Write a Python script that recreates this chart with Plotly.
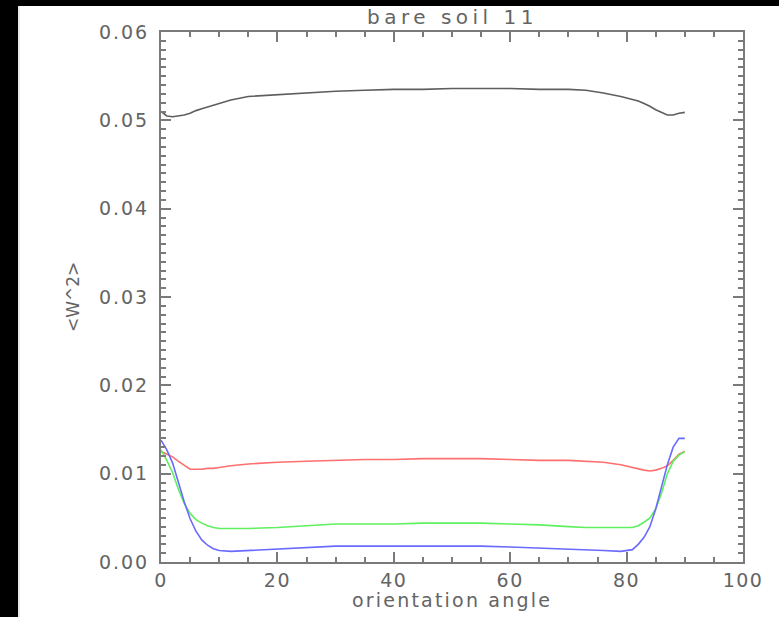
import plotly.graph_objects as go

angles = [0, 1, 2, 3, 4, 5, 6, 7, 8, 9, 10, 12, 15, 20, 25, 30, 35, 40, 45, 50,
          55, 60, 65, 70, 73, 76, 79, 81, 82, 83, 84, 85, 86, 87, 88, 89, 90]

gray_vals = [0.0510, 0.0505, 0.0504, 0.0505, 0.0506, 0.0508, 0.0511, 0.0513, 0.0515, 0.0517,
             0.0519, 0.0523, 0.0527, 0.0529, 0.0531, 0.0533, 0.0534, 0.0535, 0.0535, 0.0536,
             0.0536, 0.0536, 0.0535, 0.0535, 0.0534, 0.0531, 0.0527, 0.0524, 0.0522, 0.0519,
             0.0516, 0.0512, 0.0509, 0.0506, 0.0506, 0.0508, 0.0509]

red_vals = [0.0125, 0.0122, 0.0119, 0.0114, 0.0109, 0.0105, 0.0105, 0.0105, 0.0106, 0.0106,
            0.0107, 0.0109, 0.0111, 0.0113, 0.0114, 0.0115, 0.0116, 0.0116, 0.0117, 0.0117,
            0.0117, 0.0116, 0.0115, 0.0115, 0.0114, 0.0113, 0.0110, 0.0107, 0.0105, 0.0104,
            0.0103, 0.0104, 0.0106, 0.0109, 0.0115, 0.0122, 0.0125]

green_vals = [0.0127, 0.0115, 0.0101, 0.0082, 0.0066, 0.0055, 0.0048, 0.0044, 0.0041, 0.0039,
              0.0038, 0.0038, 0.0038, 0.0039, 0.0041, 0.0043, 0.0043, 0.0043, 0.0044, 0.0044,
              0.0044, 0.0043, 0.0042, 0.0040, 0.0039, 0.0039, 0.0039, 0.0039, 0.0041, 0.0045,
              0.0050, 0.0060, 0.0078, 0.0100, 0.0114, 0.0121, 0.0125]

blue_vals = [0.0138, 0.0127, 0.0112, 0.0090, 0.0068, 0.0049, 0.0035, 0.0025, 0.0019, 0.0015,
             0.0013, 0.0012, 0.0013, 0.0014, 0.0016, 0.0018, 0.0018, 0.0018, 0.0018, 0.0018,
             0.0018, 0.0017, 0.0016, 0.0015, 0.0014, 0.0013, 0.0012, 0.0014, 0.0020, 0.0028,
             0.0040, 0.0060, 0.0085, 0.0110, 0.0130, 0.0140, 0.0140]

x_ticks = [0, 20, 40, 60, 80, 100]
y_ticks = [0.00, 0.01, 0.02, 0.03, 0.04, 0.05, 0.06]

title_text = "bare soil 11"
x_title = "orientation angle"
y_title = "&lt;W^2&gt;"

axis_col = "#7a7a7a"
text_col = "#646464"
font_fam = "DejaVu Sans, sans-serif"


def spaced(t, sp):
    return '<span style="letter-spacing:%.1fpx">%s</span>' % (sp, t)


fig = go.Figure()
for vals, col in [(gray_vals, "#5e5e5e"), (red_vals, "#ff6f6f"),
                  (green_vals, "#5ef05e"), (blue_vals, "#6a6aff")]:
    fig.add_trace(go.Scatter(x=angles, y=vals, mode="lines",
                             line=dict(color=col, width=1.6), showlegend=False,
                             hoverinfo="skip"))

common = dict(showline=True, linecolor=axis_col, linewidth=2, mirror="allticks",
              ticks="inside", tickcolor=axis_col, tickwidth=1.5, ticklen=10,
              showgrid=False, zeroline=False,
              tickfont=dict(family=font_fam, size=19, color=text_col))

fig.update_xaxes(range=[0, 100], tickvals=x_ticks,
                 ticktext=[spaced(str(v), 1.5) for v in x_ticks],
                 ticklabelstandoff=0,
                 minor=dict(ticks="inside", dtick=5, tick0=0, ticklen=5,
                            tickcolor=axis_col, tickwidth=1.5, showgrid=False),
                 **common)
fig.update_yaxes(range=[0, 0.06], tickvals=y_ticks,
                 ticktext=[spaced("%.2f" % v, 2) for v in y_ticks],
                 ticklabelstandoff=6,
                 minor=dict(ticks="inside", dtick=0.001, tick0=0, ticklen=5,
                            tickcolor=axis_col, tickwidth=1.5, showgrid=False),
                 **common)

L, R, T, B = 161, 743, 32, 562
W, H = 779, 617


def px(x):
    return (x - L) / (R - L)


def py(y):
    return (B - y) / (B - T)


fig.update_layout(
    width=W, height=H,
    margin=dict(l=L, r=W - R, t=T, b=H - B, pad=0),
    paper_bgcolor="white", plot_bgcolor="white",
    shapes=[
        dict(type="rect", xref="paper", yref="paper", x0=px(-5), x1=px(18),
             y0=py(H + 5), y1=py(-5), fillcolor="black", line=dict(width=0), layer="below"),
        dict(type="rect", xref="paper", yref="paper", x0=px(-5), x1=px(W + 5),
             y0=py(6), y1=py(-5), fillcolor="black", line=dict(width=0), layer="below"),
        dict(type="line", xref="paper", yref="paper", x0=px(19), x1=px(19),
             y0=py(H + 5), y1=py(6), line=dict(color="#e2e2e2", width=1.5), layer="below"),
    ],
    annotations=[
        dict(text=spaced(title_text, 4.5), xref="paper", yref="paper", x=px(452), y=py(17),
             xanchor="center", yanchor="middle", showarrow=False,
             font=dict(family=font_fam, size=20, color=text_col)),
        dict(text=spaced(x_title, 2.2), xref="paper", yref="paper", x=px(452), y=py(600),
             xanchor="center", yanchor="middle", showarrow=False,
             font=dict(family=font_fam, size=19, color=text_col)),
        dict(text=y_title, xref="paper", yref="paper", x=px(73), y=py(297),
             xanchor="center", yanchor="middle", showarrow=False, textangle=-90,
             font=dict(family=font_fam, size=17, color=text_col)),
    ],
)

fig.write_html("out.html", config={"displayModeBar": False},
               post_script="document.body.style.margin='0';document.body.style.overflow='hidden';")
